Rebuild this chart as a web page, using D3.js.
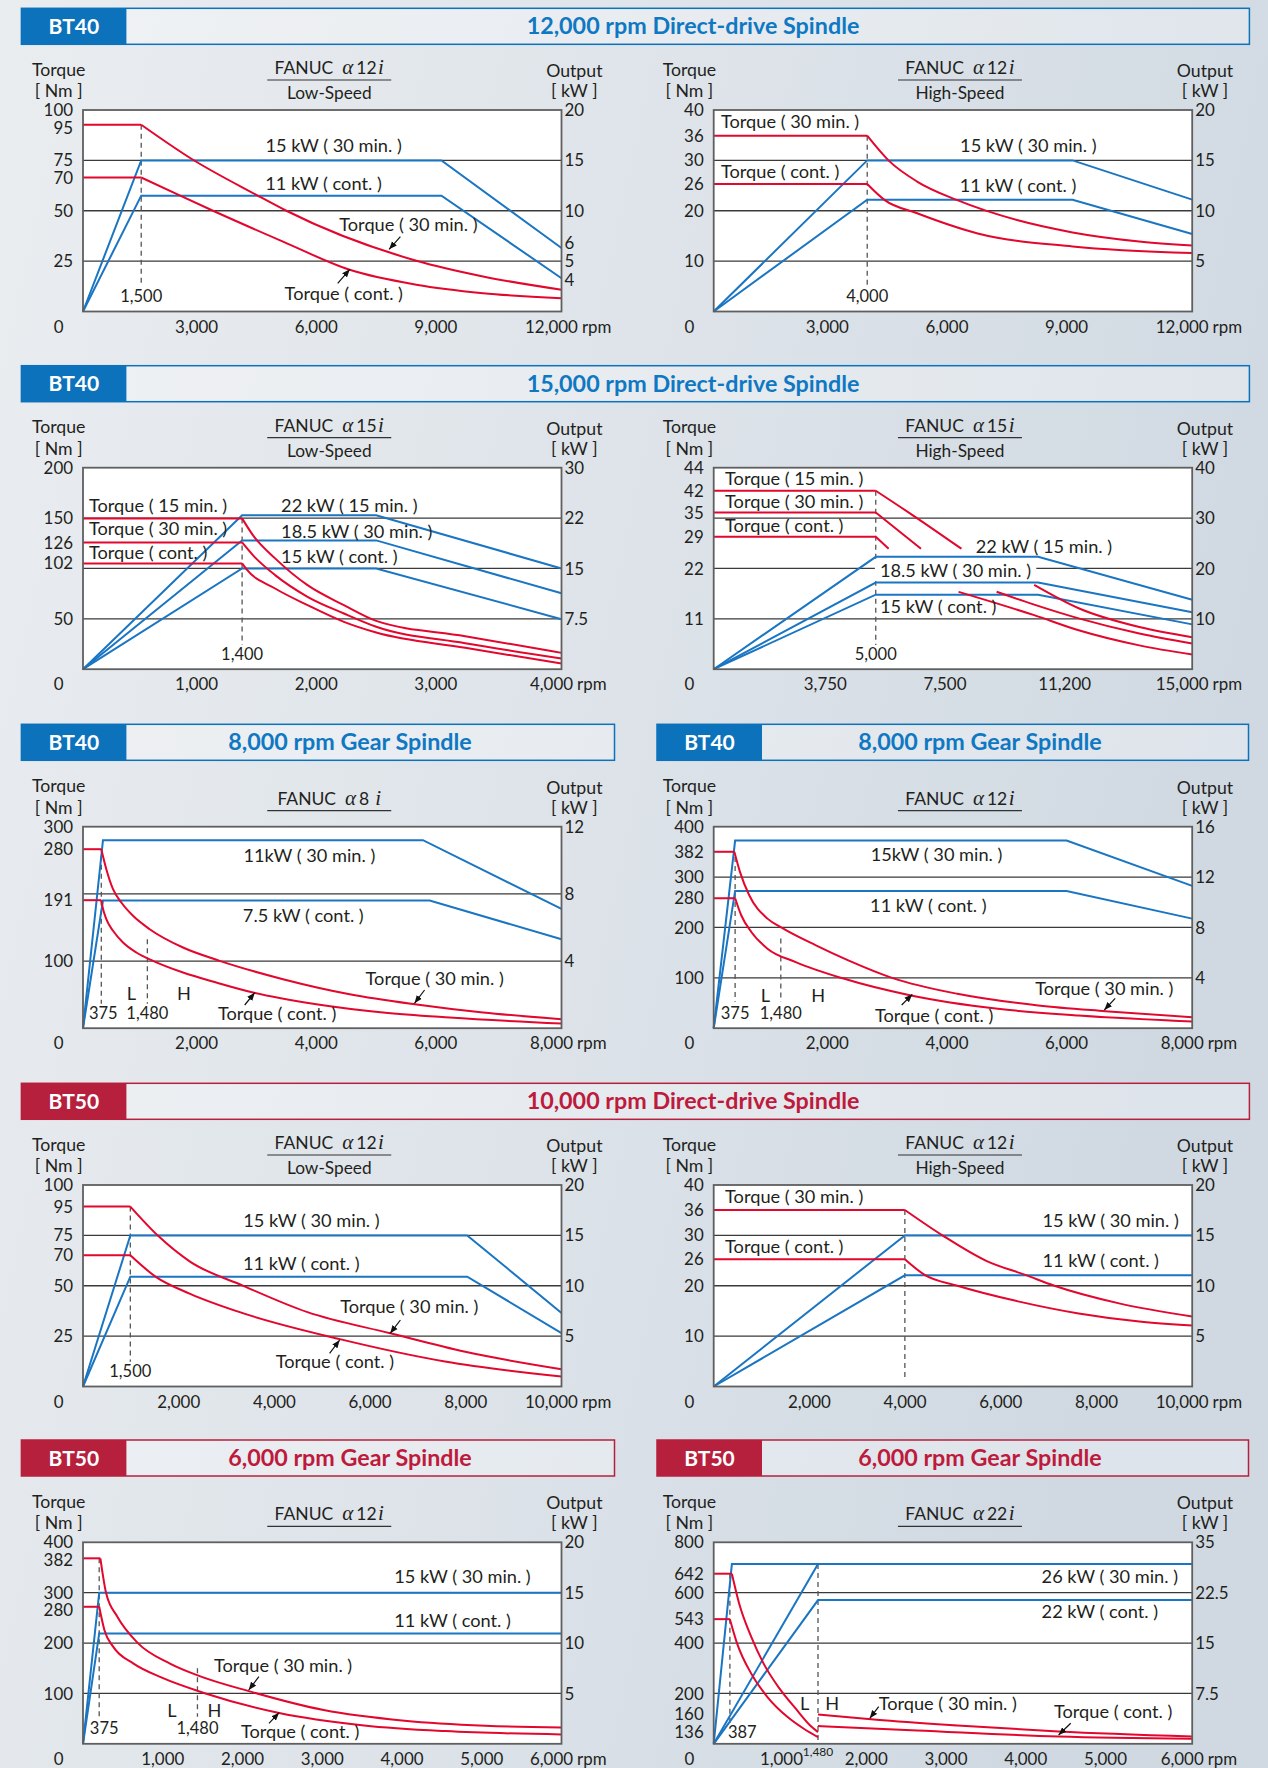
<!DOCTYPE html>
<html>
<head>
<meta charset="utf-8">
<script src="https://cdn.jsdelivr.net/npm/d3@7"></script>
<style>
  body { margin: 0; }
  text { font-family: Lato, "Open Sans", sans-serif; fill: #231f20; }
</style>
</head>
<body>
<div id="chart"></div>
<script>
// ---- data read from the sheet: [rpm, Nm] for torque, [rpm, kW] for output ----

// BT40 12,000 rpm, low speed
const p1Ticks = [3000, 6000, 9000, 12000];
const p1TqGrid = [0, 25, 50, 75, 100];
const p1OutGrid = [0, 5, 10, 15, 20];
const p1OutLabels = [20, 15, 10, 6, 5, 4];
const p1Torque30 = [[0, 92.7], [1460, 92.7], [2759, 75.3], [4347, 57.9], [5100, 50.0], [8360, 25.2], [10032, 17.4], [12000, 10.8]];
const p1TorqueCont = [[0, 66.5], [1460, 66.5], [2424, 57.6], [3260, 50.0], [5016, 34.7], [6688, 20.7], [8360, 13.3], [10032, 9.1], [12000, 6.6]];
const p1Out30 = [[0, 0], [1460, 15], [8990, 15], [12000, 6.3]];
const p1OutCont = [[0, 0], [1460, 11.5], [8990, 11.5], [12000, 3.3]];

// BT40 12,000 rpm, high speed
const p2Ticks = [3000, 6000, 9000, 12000];
const p2TqGrid = [0, 10, 20, 30, 40];
const p2OutGrid = [0, 5, 10, 15, 20];
const p2Torque30 = [[0, 34.9], [3850, 34.9], [4390, 29.95], [5100, 25.8], [6110, 22.1], [7630, 18.1], [9000, 15.7], [10670, 13.9], [12000, 13.1]];
const p2TorqueCont = [[0, 25.3], [3850, 25.3], [4290, 22.1], [5100, 19.5], [6620, 15.5], [9000, 12.9], [12000, 11.6]];
const p2Out30 = [[0, 0], [3850, 15], [9000, 15], [12000, 11.1]];
const p2OutCont = [[0, 0], [3850, 11.1], [9000, 11.1], [12000, 7.7]];

// BT40 15,000 rpm, low speed
const p3Ticks = [1000, 2000, 3000, 4000];
const p3TqGrid = [0, 50, 100, 150, 200];
const p3TqLabels = [200, 50];
const p3OutGrid = [0, 7.5, 15, 22, 30];
const p3Torque15 = [[0, 149.7], [1330, 149.7], [1420, 133.1], [1606, 110.0], [1877, 83.4], [2181, 63.6], [2451, 48.0], [3195, 32.8], [4000, 16.2]];
const p3Torque30 = [[0, 125.8], [1330, 125.8], [1420, 113.2], [1606, 93.4], [1877, 71.9], [2181, 55.3], [2451, 42.1], [3195, 25.8], [4000, 10.6]];
const p3TorqueCont = [[0, 105.0], [1330, 105.0], [1366, 99.3], [1606, 80.1], [1877, 63.6], [2181, 47.0], [2451, 36.4], [3195, 21.2], [4000, 5.6]];
const p3Out15 = [[0, 0], [1330, 22.45], [2451, 22.45], [4000, 15]];
const p3Out30 = [[0, 0], [1330, 18.9], [2451, 18.9], [4000, 11.3]];
const p3OutCont = [[0, 0], [1330, 15], [2451, 15], [4000, 7.45]];

// BT40 15,000 rpm, high speed (curves are broken where the labels sit)
const p4Ticks = [3750, 7500, 11250, 15000];
const p4TickText = ['3,750', '7,500', '11,200', '15,000'];
const p4TqGrid = [0, 11, 22, 33, 44];
const p4TqLabels = [44, 22, 11];
const p4OutGrid = [0, 10, 20, 30, 40];
const p4Torque15 = [[0, 38.97], [5080, 38.97], [6244, 33.6], [7765, 26.3], null, [10047, 18.4], [11441, 13.3], [13342, 9.2], [15000, 7.0]];
const p4Torque30 = [[0, 34.2], [5080, 34.2], [6498, 26.3], null, [8869, 16.9], [10047, 14.1], [11441, 11.1], [13342, 7.8], [15000, 5.6]];
const p4TorqueCont = [[0, 28.9], [5080, 28.9], [5485, 26.3], null, [7677, 16.9], [10047, 11.8], [11441, 8.5], [13342, 5.2], [15000, 3.2]];
const p4Out15 = [[0, 0], [5080, 22.3], [10170, 22.3], [15000, 13.8]];
const p4Out30 = [[0, 0], [5080, 17.2], [10170, 17.2], [15000, 11.3]];
const p4OutCont = [[0, 0], [5080, 14.8], [10170, 14.8], [15000, 8.9]];

// BT40 8,000 rpm gear, a8i
const p5Ticks = [2000, 4000, 6000, 8000];
const p5TqGrid = [0, 100, 200, 300];
const p5TqLabels = [300, 100];
const p5OutGrid = [0, 4, 8, 12];
const p5Torque30 = [[0, 266.5], [306, 266.5], [390, 236.7], [502, 207], [641, 187.1], [836, 167.3], [1115, 147.4], [1672, 120.1], [2285, 100.3], [3344, 73.0], [4458, 50.6], [5545, 35.7], [6688, 23.4], [8000, 13.4]];
const p5TorqueCont = [[0, 190.6], [306, 190.6], [323, 182.2], [390, 162.3], [502, 145.0], [669, 127.6], [892, 112.7], [1170, 100.3], [1672, 82.9], [2229, 68.0], [2842, 53.2], [3901, 35.7], [5016, 23.4], [6130, 15.9], [8000, 7.0]];
const p5Out30 = [[0, 0], [334, 11.2], [5684, 11.2], [8000, 7.1]];
const p5OutCont = [[0, 0], [334, 7.6], [5796, 7.6], [8000, 5.3]];

// BT40 8,000 rpm gear, a12i
const p6Ticks = [2000, 4000, 6000, 8000];
const p6TqGrid = [0, 100, 200, 300, 400];
const p6OutGrid = [0, 4, 8, 12, 16];
const p6Torque30 = [[0, 350.2], [345, 350.2], [439, 310.4], [594, 263.9], [899, 217.5], [1135, 199.6], [1709, 164.5], [2250, 134.7], [2993, 99.5], [4074, 68.3], [5426, 45.1], [6547, 33.8], [8000, 21.9]];
const p6TorqueCont = [[0, 258], [358, 258], [460, 224.2], [629, 191], [899, 157.9], [1372, 131.3], [2142, 99.5], [3297, 65], [4750, 38.5], [6101, 25.2], [8000, 13.3]];
const p6Out30 = [[0, 0], [358, 14.9], [5900, 14.9], [8000, 11.3]];
const p6OutCont = [[0, 0], [358, 10.9], [5900, 10.9], [8000, 8.7]];

// BT50 10,000 rpm, low speed
const p7Ticks = [2000, 4000, 6000, 8000, 10000];
const p7TqGrid = [0, 25, 50, 75, 100];
const p7OutGrid = [0, 5, 10, 15, 20];
const p7Torque30 = [[0, 89.3], [989, 89.3], [1564, 74.9], [2236, 62.0], [3338, 50.1], [4691, 36.9], [6424, 26.4], [7988, 17.2], [10000, 8.6]];
const p7TorqueCont = [[0, 65.1], [989, 65.1], [1522, 54.4], [2240, 46.0], [3339, 36.4], [5368, 23.5], [7564, 12.4], [10000, 5.0]];
const p7Out30 = [[0, 0], [989, 15], [8030, 15], [10000, 7.3]];
const p7OutCont = [[0, 0], [989, 10.9], [8030, 10.9], [10000, 5.3]];

// BT50 10,000 rpm, high speed
const p8Ticks = [2000, 4000, 6000, 8000, 10000];
const p8TqGrid = [0, 10, 20, 30, 40];
const p8OutGrid = [0, 5, 10, 15, 20];
const p8Torque30 = [[0, 35.04], [3995, 35.04], [4797, 29.9], [5684, 25.0], [6528, 22.1], [7120, 20.0], [8472, 16.5], [10000, 13.9]];
const p8TorqueCont = [[0, 25.26], [3995, 25.26], [4417, 22.1], [5093, 20.0], [6360, 16.9], [7627, 14.5], [8894, 12.9], [10000, 12.1]];
const p8Out30 = [[0, 0], [3995, 15], [10000, 15]];
const p8OutCont = [[0, 0], [3995, 11.04], [10000, 11.04]];

// BT50 6,000 rpm gear, a12i
const p9Ticks = [1000, 2000, 3000, 4000, 5000, 6000];
const p9TqGrid = [0, 100, 200, 300, 400];
const p9OutGrid = [0, 5, 10, 15, 20];
const p9Torque30 = [[0, 368.2], [218, 368.2], [289, 299.8], [431, 252.1], [685, 200.4], [1091, 159.2], [1446, 135.3], [2079, 104.5], [3018, 67.0], [4032, 45.8], [5046, 35.8], [6000, 32.5]];
const p9TorqueCont = [[0, 272], [203, 272], [269, 225.5], [380, 192.4], [634, 159.2], [989, 131.3], [1547, 99.5], [2460, 61.0], [3525, 36.5], [4540, 25.2], [6000, 18.6]];
const p9Out30 = [[0, 0], [203, 15], [6000, 15]];
const p9OutCont = [[0, 0], [203, 10.95], [6000, 10.95]];

// BT50 6,000 rpm gear, a22i (L and H gear)
const p10Ticks = [1000, 2000, 3000, 4000, 5000, 6000];
const p10TqGrid = [0, 200, 400, 600, 800];
const p10OutGrid = [0, 7.5, 15, 22.5, 35];
const p10TorqueL30 = [[0, 675.3], [228, 675.3], [319, 557.2], [471, 424.5], [626, 318.4], [826, 218.9], [1029, 139.3], [1231, 66.3], [1308, 46.4]];
const p10TorqueLCont = [[0, 494.9], [203, 494.9], [294, 398.0], [471, 278.6], [674, 185.7], [927, 106.1], [1130, 59.7], [1308, 26.5]];
const p10TorqueH30 = [[1308, 116.7], [2043, 95.5], [3056, 72.9], [4322, 49.1], [6000, 29.2]];
const p10TorqueHCont = [[1308, 70.3], [2549, 53.1], [4322, 29.2], [6000, 19.9]];
const p10OutL30 = [[0, 0], [228, 29.6], [6000, 29.6]];
const p10OutH30 = [[0, 0], [1308, 29.6]];
const p10OutHCont = [[0, 0], [1308, 21.4], [6000, 21.4]];

// ---- layout ----
const W = 1268, H = 1768;
const PW = 478.5, PH = 201.5;
const COLS = [83, 713.7];
const ROWS = [110, 467.7, 826.7, 1185, 1542.3];
const BLUE = '#1a75c2', RED = '#e3062d';
const HDR_BLUE = '#0b72bb', HDR_RED = '#b6203d';
const NOTE_SIZE = '18.2px', TICK_SIZE = '16.9px';

const banners = [
  { y: 8.3, x0: 21.4, x1: 1249.4, c: HDR_BLUE, tag: 'BT40', title: '12,000 rpm Direct-drive Spindle', tx: 693 },
  { y: 365.7, x0: 21.4, x1: 1249.4, c: HDR_BLUE, tag: 'BT40', title: '15,000 rpm Direct-drive Spindle', tx: 693 },
  { y: 724.3, x0: 21.4, x1: 614.5, c: HDR_BLUE, tag: 'BT40', title: '8,000 rpm Gear Spindle', tx: 350 },
  { y: 724.3, x0: 657, x1: 1248.5, c: HDR_BLUE, tag: 'BT40', title: '8,000 rpm Gear Spindle', tx: 980 },
  { y: 1083.3, x0: 21.4, x1: 1249.4, c: HDR_RED, tag: 'BT50', title: '10,000 rpm Direct-drive Spindle', tx: 693 },
  { y: 1440, x0: 21.4, x1: 614.5, c: HDR_RED, tag: 'BT50', title: '6,000 rpm Gear Spindle', tx: 350 },
  { y: 1440, x0: 657, x1: 1248.5, c: HDR_RED, tag: 'BT50', title: '6,000 rpm Gear Spindle', tx: 980 },
];

const panels = [
  { col: 0, row: 0, xMax: 12000, ticks: p1Ticks, shift: -6, tqGrid: p1TqGrid, outGrid: p1OutGrid, outLabels: p1OutLabels,
    model: '12', sub: 'Low-Speed',
    red: [{ d: p1Torque30, r: '95' }, { d: p1TorqueCont, r: '70' }], blue: [p1Out30, p1OutCont],
    marks: [{ v: 1460, top: 92.7, bot: 176.7, label: '1,500', ly: 191.7 }],
    notes: [
      { t: '15 kW ( 30 min. )', x: 250.6, y: 41.7, a: 'middle' },
      { t: '11 kW ( cont. )', x: 240.5, y: 80, a: 'middle' },
      { t: 'Torque ( 30 min. )', x: 325.4, y: 121, a: 'middle' },
      { t: 'Torque ( cont. )', x: 260.8, y: 190, a: 'middle' }],
    arrows: [[317.4, 126.7, 306.1, 139.3], [254.7, 173.3, 266.8, 159.3]] },
  { col: 1, row: 0, xMax: 12000, ticks: p2Ticks, shift: -6, tqGrid: p2TqGrid, outGrid: p2OutGrid,
    model: '12', sub: 'High-Speed',
    red: [{ d: p2Torque30, r: '36' }, { d: p2TorqueCont, r: '26' }], blue: [p2Out30, p2OutCont],
    marks: [{ v: 3850, top: 34.9, bot: 176.7, label: '4,000', ly: 191.7 }],
    notes: [
      { t: 'Torque ( 30 min. )', x: 7.3, y: 18.3, a: 'start' },
      { t: 'Torque ( cont. )', x: 7.3, y: 67.7, a: 'start' },
      { t: '15 kW ( 30 min. )', x: 314.6, y: 41.7, a: 'middle' },
      { t: '11 kW ( cont. )', x: 304.4, y: 81.7, a: 'middle' }],
    arrows: [] },
  { col: 0, row: 1, xMax: 4000, ticks: p3Ticks, shift: -6, tqGrid: p3TqGrid, tqLabels: p3TqLabels, outGrid: p3OutGrid,
    model: '15', sub: 'Low-Speed',
    red: [{ d: p3Torque15, r: '150' }, { d: p3Torque30, r: '126' }, { d: p3TorqueCont, r: '102' }],
    blue: [p3Out15, p3Out30, p3OutCont],
    marks: [{ v: 1330, top: 149.7, bot: 177.3, label: '1,400', ly: 192.3 }],
    notes: [
      { t: 'Torque ( 15 min. )', x: 6, y: 44.6, a: 'start' },
      { t: 'Torque ( 30 min. )', x: 6, y: 67.3, a: 'start' },
      { t: 'Torque ( cont. )', x: 6, y: 91.3, a: 'start' },
      { t: '22 kW ( 15 min. )', x: 198.1, y: 44.6, a: 'start' },
      { t: '18.5 kW ( 30 min. )', x: 198.1, y: 70, a: 'start' },
      { t: '15 kW ( cont. )', x: 198.1, y: 95.6, a: 'start' }],
    arrows: [] },
  { col: 1, row: 1, xMax: 15000, ticks: p4Ticks, tickText: p4TickText, shift: -8, tqGrid: p4TqGrid, tqLabels: p4TqLabels, outGrid: p4OutGrid,
    model: '15', sub: 'High-Speed',
    red: [{ d: p4Torque15, r: '42' }, { d: p4Torque30, r: '35' }, { d: p4TorqueCont, r: '29' }],
    blue: [p4Out15, p4Out30, p4OutCont],
    marks: [{ v: 5080, top: 38.97, bot: 177.3, label: '5,000', ly: 192.3 }],
    notes: [
      { t: 'Torque ( 15 min. )', x: 11.4, y: 17.3, a: 'start' },
      { t: 'Torque ( 30 min. )', x: 11.4, y: 40.6, a: 'start' },
      { t: 'Torque ( cont. )', x: 11.4, y: 64, a: 'start' },
      { t: '22 kW ( 15 min. )', x: 262, y: 85.6, a: 'start' },
      { t: '18.5 kW ( 30 min. )', x: 166.2, y: 109, a: 'start', bg: true },
      { t: '15 kW ( cont. )', x: 166.2, y: 145.6, a: 'start' }],
    arrows: [] },
  { col: 0, row: 2, xMax: 8000, ticks: p5Ticks, shift: -6, tqGrid: p5TqGrid, tqLabels: p5TqLabels, outGrid: p5OutGrid,
    model: '8 ', sub: null,
    red: [{ d: p5Torque30, r: '280' }, { d: p5TorqueCont, r: '191' }], blue: [p5Out30, p5OutCont],
    marks: [{ v: 306, top: 256.7, bot: 177, label: '375', ly: 192, dx: 2 }, { v: 1076, top: 132.5, bot: 177, label: '1,480', ly: 192 }],
    notes: [
      { t: '11kW ( 30 min. )', x: 226.4, y: 35, a: 'middle' },
      { t: '7.5 kW ( cont. )', x: 220.3, y: 95, a: 'middle' },
      { t: 'Torque ( 30 min. )', x: 351.7, y: 158.3, a: 'middle' },
      { t: 'Torque ( cont. )', x: 194.1, y: 193.3, a: 'middle' },
      { t: 'L', x: 48.3, y: 173.3, a: 'middle' },
      { t: 'H', x: 101, y: 173.3, a: 'middle' }],
    arrows: [[341.6, 163.3, 331.5, 176.6], [161.7, 178.3, 171.8, 166]] },
  { col: 1, row: 2, xMax: 8000, ticks: p6Ticks, shift: -6, tqGrid: p6TqGrid, outGrid: p6OutGrid,
    model: '12', sub: null,
    red: [{ d: p6Torque30, r: '382' }, { d: p6TorqueCont, r: '280' }], blue: [p6Out30, p6OutCont],
    marks: [{ v: 358, top: 340, bot: 175, label: '375', ly: 192.3 }, { v: 1122, top: 178, bot: 175, label: '1,480', ly: 192.3 }],
    notes: [
      { t: '15kW ( 30 min. )', x: 222.8, y: 34.3, a: 'middle' },
      { t: '11 kW ( cont. )', x: 214.7, y: 85, a: 'middle' },
      { t: 'Torque ( 30 min. )', x: 390.6, y: 168.3, a: 'middle' },
      { t: 'Torque ( cont. )', x: 220.4, y: 195, a: 'middle' },
      { t: 'L', x: 51.8, y: 175, a: 'middle' },
      { t: 'H', x: 104.4, y: 175, a: 'middle' }],
    arrows: [[401.5, 171.6, 390.6, 183.3], [188, 178.3, 198.6, 167.6]] },
  { col: 0, row: 3, xMax: 10000, ticks: p7Ticks, shift: 0, tqGrid: p7TqGrid, outGrid: p7OutGrid,
    model: '12', sub: 'Low-Speed',
    red: [{ d: p7Torque30, r: '95' }, { d: p7TorqueCont, r: '70' }], blue: [p7Out30, p7OutCont],
    marks: [{ v: 989, top: 89.3, bot: 176.7, label: '1,500', ly: 191.7 }],
    notes: [
      { t: '15 kW ( 30 min. )', x: 228.4, y: 41.7, a: 'middle' },
      { t: '11 kW ( cont. )', x: 218.3, y: 85, a: 'middle' },
      { t: 'Torque ( 30 min. )', x: 326.3, y: 128.3, a: 'middle' },
      { t: 'Torque ( cont. )', x: 251.9, y: 183.3, a: 'middle' }],
    arrows: [[317.4, 135, 307.2, 148.3], [246.6, 168.3, 256.7, 155]] },
  { col: 1, row: 3, xMax: 10000, ticks: p8Ticks, shift: 0, tqGrid: p8TqGrid, outGrid: p8OutGrid,
    model: '12', sub: 'High-Speed',
    red: [{ d: p8Torque30, r: '36' }, { d: p8TorqueCont, r: '26' }], blue: [p8Out30, p8OutCont],
    marks: [{ v: 3995, top: 35.04, bot: 195 }],
    notes: [
      { t: 'Torque ( 30 min. )', x: 11.4, y: 18.3, a: 'start' },
      { t: 'Torque ( cont. )', x: 11.4, y: 67.7, a: 'start' },
      { t: '15 kW ( 30 min. )', x: 328.7, y: 41.7, a: 'start' },
      { t: '11 kW ( cont. )', x: 328.7, y: 81.7, a: 'start' }],
    arrows: [] },
  { col: 0, row: 4, xMax: 6000, ticks: p9Ticks, shift: 0, tqGrid: p9TqGrid, outGrid: p9OutGrid,
    model: '12', sub: null,
    red: [{ d: p9Torque30, r: '382' }, { d: p9TorqueCont, r: '280' }], blue: [p9Out30, p9OutCont],
    marks: [{ v: 203, top: 368.2, bot: 174.4, label: '375', ly: 191.7, dx: 5 }, { v: 1435, top: 150, bot: 174.4, label: '1,480', ly: 191.7 }],
    notes: [
      { t: '15 kW ( 30 min. )', x: 311.3, y: 41, a: 'start' },
      { t: '11 kW ( cont. )', x: 311.3, y: 84.4, a: 'start' },
      { t: 'Torque ( 30 min. )', x: 200.1, y: 129.4, a: 'middle' },
      { t: 'Torque ( cont. )', x: 217.1, y: 196, a: 'middle' },
      { t: 'L', x: 88.9, y: 174.4, a: 'middle' },
      { t: 'H', x: 131.4, y: 174.4, a: 'middle' }],
    arrows: [[175.9, 134.4, 165.7, 147.7], [186, 181, 196.1, 170.4]] },
  { col: 1, row: 4, xMax: 6000, ticks: p10Ticks, shift: [-12, -7, -7, -7, -7], tqGrid: p10TqGrid, outGrid: p10OutGrid,
    model: '22', sub: null,
    red: [{ d: p10TorqueL30, r: '642' }, { d: p10TorqueLCont, r: '543' },
          { d: p10TorqueH30, r: '160', flat: false }, { d: p10TorqueHCont, r: '136', flat: false }],
    blue: [p10OutL30, p10OutH30, p10OutHCont],
    marks: [{ v: 203, top: 675.3, bot: 181, label: '387', ly: 196, a: 'start', dx: -2 },
            { v: 1308, top: 713.8, bot: PH, label: '1,480', ly: 213.4, small: true }],
    notes: [
      { t: '26 kW ( 30 min. )', x: 327.9, y: 41, a: 'start' },
      { t: '22 kW ( cont. )', x: 327.9, y: 76, a: 'start' },
      { t: 'Torque ( 30 min. )', x: 165, y: 167.7, a: 'start' },
      { t: 'Torque ( cont. )', x: 399.5, y: 176, a: 'middle' },
      { t: 'L', x: 91, y: 167.7, a: 'middle' },
      { t: 'H', x: 118.5, y: 167.7, a: 'middle' }],
    arrows: [[165, 164.4, 156.1, 176], [357, 181, 344.9, 192.7]] },
];

// ---- drawing ----
const svg = d3.select('#chart').append('svg')
  .attr('width', W)
  .attr('height', H);

const defs = svg.append('defs');
const grad = defs.append('linearGradient').attr('id', 'bg').attr('x1', 0).attr('y1', 0).attr('x2', 1).attr('y2', 0.3);
grad.append('stop').attr('offset', 0).attr('stop-color', '#eaedf0');
grad.append('stop').attr('offset', 0.55).attr('stop-color', '#dde3e9');
grad.append('stop').attr('offset', 1).attr('stop-color', '#d0d9e2');
defs.append('marker')
  .attr('id', 'arrow')
  .attr('viewBox', '0 0 10 8')
  .attr('refX', 10).attr('refY', 4)
  .attr('markerWidth', 8).attr('markerHeight', 7)
  .attr('markerUnits', 'userSpaceOnUse')
  .attr('orient', 'auto')
  .append('path')
  .attr('d', 'M0,0 L10,4 L0,8 Z')
  .attr('fill', '#111');

svg.append('rect').attr('width', W).attr('height', H).attr('fill', 'url(#bg)');

banners.forEach(b => {
  const g = svg.append('g');
  g.append('rect')
    .attr('x', b.x0).attr('y', b.y)
    .attr('width', b.x1 - b.x0).attr('height', 36)
    .attr('fill', 'rgba(255,255,255,0.3)')
    .attr('stroke', b.c).attr('stroke-width', 1.5);
  g.append('rect')
    .attr('x', b.x0).attr('y', b.y)
    .attr('width', 105).attr('height', 36)
    .attr('fill', b.c);
  g.append('text')
    .attr('x', b.x0 + 52.5).attr('y', b.y + 25.5)
    .attr('text-anchor', 'middle')
    .style('font-size', '21px').style('font-weight', 'bold').style('fill', '#fff')
    .text(b.tag);
  g.append('text')
    .attr('x', b.tx).attr('y', b.y + 25.8)
    .attr('text-anchor', 'middle')
    .style('font-size', '23.3px').style('font-weight', 'bold').style('fill', b.c === HDR_BLUE ? '#0f78c3' : '#be1a3c')
    .text(b.title);
});

// spread labels that sit too close on an axis (symmetric)
function spread(items, gap) {
  items.sort((a, b) => a.y - b.y);
  for (let k = 0; k < 80; k++) {
    let moved = false;
    for (let i = 1; i < items.length; i++) {
      const d = items[i].y - items[i - 1].y;
      if (d < gap - 0.01) {
        const s = (gap - d) / 2;
        items[i - 1].y -= s;
        items[i].y += s;
        moved = true;
      }
    }
    if (!moved) break;
  }
  return items;
}

// push crowded labels downwards only (keeps the top label on the frame)
function pushDown(items, gap) {
  items.sort((a, b) => a.y - b.y);
  for (let i = 1; i < items.length; i++) {
    if (items[i].y - items[i - 1].y < gap) items[i].y = items[i - 1].y + gap;
  }
  return items;
}

function evenRange(grid, B) {
  return grid.map((d, i) => B - i * PH / (grid.length - 1));
}

panels.forEach(cfg => {
  const L = COLS[cfg.col], T = ROWS[cfg.row];
  const R = L + PW, B = T + PH;
  const g = svg.append('g');

  const x = d3.scaleLinear().domain([0, cfg.xMax]).range([L, R]);
  const yT = d3.scaleLinear().domain(cfg.tqGrid).range(evenRange(cfg.tqGrid, B));
  const yO = d3.scaleLinear().domain(cfg.outGrid).range(evenRange(cfg.outGrid, B));

  g.append('rect').attr('x', L).attr('y', T).attr('width', PW).attr('height', PH).attr('fill', '#fff');

  // grid lines
  g.selectAll('.grid')
    .data(cfg.tqGrid.slice(1, -1))
    .enter().append('line')
    .attr('x1', L).attr('x2', R)
    .attr('y1', d => yT(d)).attr('y2', d => yT(d))
    .attr('stroke', '#3a3a3a').attr('stroke-width', 1.3);

  // dashed markers
  cfg.marks.forEach(m => {
    g.append('line')
      .attr('x1', x(m.v)).attr('x2', x(m.v))
      .attr('y1', yT(m.top)).attr('y2', T + m.bot)
      .attr('stroke', '#555').attr('stroke-width', 1.3)
      .attr('stroke-dasharray', '5,4');
    if (m.label) {
      g.append('text')
        .attr('x', x(m.v) + (m.dx || 0)).attr('y', T + m.ly)
        .attr('text-anchor', m.a || 'middle')
        .style('font-size', m.small ? '12px' : '16.5px')
        .text(m.label);
    }
  });

  // output lines
  const outLine = d3.line().x(d => x(d[0])).y(d => yO(d[1]));
  cfg.blue.forEach(s => {
    g.append('path').attr('d', outLine(s))
      .attr('fill', 'none').attr('stroke', BLUE).attr('stroke-width', 2);
  });

  // torque curves: flat part straight, falling part smooth
  const tqLin = d3.line().defined(d => d != null).x(d => x(d[0])).y(d => yT(d[1]));
  const tqCurve = d3.line().defined(d => d != null).x(d => x(d[0])).y(d => yT(d[1])).curve(d3.curveMonotoneX);
  cfg.red.forEach(s => {
    if (s.flat !== false) {
      g.append('path').attr('d', tqLin(s.d.slice(0, 2)))
        .attr('fill', 'none').attr('stroke', RED).attr('stroke-width', 2);
      g.append('path').attr('d', tqCurve(s.d.slice(1)))
        .attr('fill', 'none').attr('stroke', RED).attr('stroke-width', 2);
    } else {
      g.append('path').attr('d', tqCurve(s.d))
        .attr('fill', 'none').attr('stroke', RED).attr('stroke-width', 2);
    }
  });

  // annotations
  cfg.notes.forEach(n => {
    const t = g.append('text')
      .attr('x', L + n.x).attr('y', T + n.y)
      .attr('text-anchor', n.a || 'start')
      .style('font-size', NOTE_SIZE)
      .text(n.t);
    if (n.bg) {
      const bb = t.node().getBBox();
      g.insert('rect', () => t.node())
        .attr('x', bb.x - 5).attr('y', bb.y + 2)
        .attr('width', bb.width + 10).attr('height', bb.height - 2)
        .attr('fill', '#fff');
    }
  });
  cfg.arrows.forEach(a => {
    g.append('line')
      .attr('x1', L + a[0]).attr('y1', T + a[1])
      .attr('x2', L + a[2]).attr('y2', T + a[3])
      .attr('stroke', '#111').attr('stroke-width', 1.2)
      .attr('marker-end', 'url(#arrow)');
  });

  g.append('rect').attr('x', L).attr('y', T).attr('width', PW).attr('height', PH)
    .attr('fill', 'none').attr('stroke', '#5f5f5f').attr('stroke-width', 1.8);

  // left axis labels: grid values plus the rated torque of each curve
  const leftItems = (cfg.tqLabels || cfg.tqGrid.slice(1)).map(v => ({ t: String(v), y: yT(v) }))
    .concat(cfg.red.map(s => ({ t: s.r, y: yT(s.d[0][1]) })));
  pushDown(leftItems, 17.5).forEach(it => {
    g.append('text')
      .attr('x', L - 10).attr('y', it.y).attr('dy', '0.36em')
      .attr('text-anchor', 'end')
      .style('font-size', TICK_SIZE)
      .text(it.t);
  });

  // right axis labels
  const rightItems = (cfg.outLabels || cfg.outGrid.slice(1)).map(v => ({ t: String(v), y: yO(v) }));
  spread(rightItems, 18.5).forEach(it => {
    g.append('text')
      .attr('x', R + 3).attr('y', it.y).attr('dy', '0.36em')
      .style('font-size', TICK_SIZE)
      .text(it.t);
  });

  // x axis labels
  const fmt = d3.format(',');
  cfg.ticks.forEach((v, i) => {
    const last = i === cfg.ticks.length - 1;
    const sh = Array.isArray(cfg.shift) ? cfg.shift[i] : cfg.shift;
    const tx = x(v) + (last ? -10 : sh);
    const t = g.append('text')
      .attr('x', tx).attr('y', B + 21)
      .attr('text-anchor', 'middle')
      .style('font-size', TICK_SIZE)
      .text(cfg.tickText ? cfg.tickText[i] : fmt(v));
    if (last) {
      const w = t.node().getComputedTextLength();
      g.append('text')
        .attr('x', tx + w / 2 + 4).attr('y', B + 21)
        .style('font-size', TICK_SIZE)
        .text('rpm');
    }
  });
  g.append('text')
    .attr('x', L - 24.3).attr('y', B + 21)
    .attr('text-anchor', 'middle')
    .style('font-size', TICK_SIZE)
    .text('0');

  // axis titles
  [['Torque', L - 24.3, T - 34.5], ['[ Nm ]', L - 24.3, T - 13],
   ['Output', R + 12.8, T - 33], ['[ kW ]', R + 12.8, T - 13]].forEach(a => {
    g.append('text')
      .attr('x', a[1]).attr('y', a[2])
      .attr('text-anchor', 'middle')
      .style('font-size', '17.7px')
      .text(a[0]);
  });

  // motor model
  const cx = L + PW / 2 + 7;
  const my = cfg.sub ? T - 36 : T - 22;
  const mt = g.append('text')
    .attr('x', cx).attr('y', my)
    .attr('text-anchor', 'middle')
    .style('font-size', '17.5px');
  mt.append('tspan').text('FANUC');
  mt.append('tspan').attr('dx', 9).style('font-family', '"Liberation Serif", serif').style('font-style', 'italic').style('font-size', '21px').text('α');
  mt.append('tspan').attr('dx', 3).text(cfg.model);
  mt.append('tspan').attr('dx', 1.5).style('font-family', '"Liberation Serif", serif').style('font-style', 'italic').style('font-size', '21px').text('i');
  g.append('line')
    .attr('x1', cx - 62).attr('x2', cx + 62)
    .attr('y1', my + 6).attr('y2', my + 6)
    .attr('stroke', '#333').attr('stroke-width', 1.2);
  if (cfg.sub) {
    g.append('text')
      .attr('x', cx).attr('y', T - 11)
      .attr('text-anchor', 'middle')
      .style('font-size', '17.3px')
      .text(cfg.sub);
  }
});
</script>
</body>
</html>
